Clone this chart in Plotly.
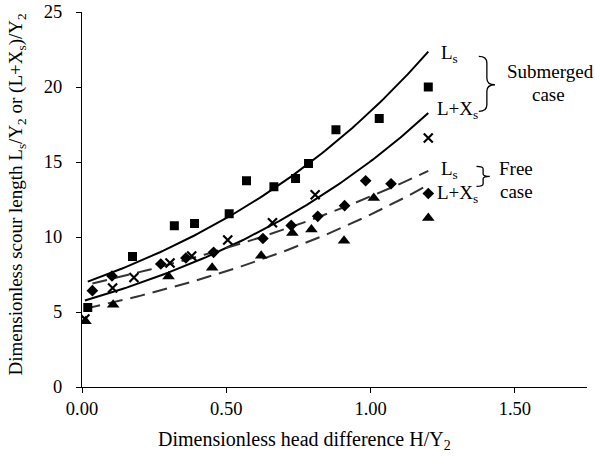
import numpy as np
import plotly.graph_objects as go

# Submerged case, L_s/Y2 (squares)
sub_ls_x = [0.02, 0.175, 0.32, 0.39, 0.51, 0.57, 0.665, 0.74, 0.785, 0.88, 1.03, 1.20]
sub_ls_y = [5.3, 8.7, 10.75, 10.9, 11.55, 13.75, 13.35, 13.9, 14.9, 17.15, 17.9, 20.0]

# Submerged case, (L+Xs)/Y2 (crosses)
sub_lx_x = [0.01, 0.106, 0.18, 0.305, 0.38, 0.505, 0.66, 0.808, 1.20]
sub_lx_y = [4.53, 6.6, 7.3, 8.27, 8.73, 9.8, 10.95, 12.82, 16.6]

# Free case, L_s/Y2 (diamonds)
free_ls_x = [0.036, 0.104, 0.273, 0.36, 0.456, 0.627, 0.725, 0.817, 0.91, 0.983, 1.071, 1.20]
free_ls_y = [6.42, 7.4, 8.2, 8.6, 8.98, 9.9, 10.77, 11.38, 12.09, 13.75, 13.55, 12.9]

# Free case, (L+Xs)/Y2 (triangles)
free_lx_x = [0.012, 0.108, 0.30, 0.451, 0.621, 0.729, 0.795, 0.908, 1.011, 1.20]
free_lx_y = [4.38, 5.49, 7.37, 7.95, 8.75, 10.27, 10.5, 9.75, 12.6, 11.27]

x_ticks = [0.0, 0.5, 1.0, 1.5]
x_tick_text = ["0.00", "0.50", "1.00", "1.50"]
y_ticks = [0, 5, 10, 15, 20, 25]

FONT = "Liberation Serif"


def exp_trend(xs, ys, n=100):
    xs = np.asarray(xs, float)
    ys = np.asarray(ys, float)
    b, lna = np.polyfit(xs, np.log(ys), 1)
    xx = np.linspace(xs.min(), xs.max(), n)
    return xx, np.exp(lna) * np.exp(b * xx)


fig = go.Figure()

series = [
    (sub_ls_x, sub_ls_y, dict(symbol="square", size=9, color="black"),
     dict(color="black", width=2)),
    (sub_lx_x, sub_lx_y, dict(symbol="x-thin", size=9, color="black",
                              line=dict(color="black", width=2.2)),
     dict(color="black", width=2)),
    (free_ls_x, free_ls_y, dict(symbol="diamond", size=9, color="black"),
     dict(color="#333333", width=2, dash="15px,8px")),
    (free_lx_x, free_lx_y, dict(symbol="triangle-up", size=11, color="black"),
     dict(color="#333333", width=2, dash="15px,8px")),
]

for xs, ys, mk, ln in series:
    tx, ty = exp_trend(xs, ys)
    fig.add_trace(go.Scatter(x=tx, y=ty, mode="lines", line=ln,
                             hoverinfo="skip", showlegend=False))
for xs, ys, mk, ln in series:
    fig.add_trace(go.Scatter(x=xs, y=ys, mode="markers", marker=mk,
                             showlegend=False))

ann_font = dict(family=FONT, size=19, color="black")
labels = [
    (1.275, 22.2, "L<sub>s</sub>"),
    (1.30, 18.45, "L+X<sub>s</sub>"),
    (1.275, 14.5, "L<sub>s</sub>"),
    (1.30, 12.9, "L+X<sub>s</sub>"),
    (1.625, 21.05, "Submerged"),
    (1.615, 19.5, "case"),
    (1.505, 14.6, "Free"),
    (1.505, 13.05, "case"),
]
for ax, ay, t in labels:
    fig.add_annotation(x=ax, y=ay, text=t, showarrow=False, font=ann_font,
                       xanchor="center", yanchor="middle")

# axis titles placed as text so their position matches the original
fig.add_annotation(
    xref="paper", yref="paper", x=-0.129, y=0.513,
    text="Dimensionless scour length L<sub>s</sub>/Y<sub>2</sub> or (L+X<sub>s</sub>)/Y<sub>2</sub>",
    textangle=-90, showarrow=False, xanchor="center", yanchor="middle",
    font=dict(family=FONT, size=19, color="black"))
fig.add_annotation(
    xref="paper", yref="paper", x=0.44, y=-0.142,
    text="Dimensionless head difference H/Y<sub>2</sub>",
    showarrow=False, xanchor="center", yanchor="middle",
    font=dict(family=FONT, size=20, color="black"))


def brace(x0, xm, x1, top, mid, bot):
    d = (top - bot) * 0.12
    return (f"M {x0},{top} Q {xm},{top} {xm},{top - d} "
            f"L {xm},{mid + d} Q {xm},{mid} {x1},{mid} "
            f"Q {xm},{mid} {xm},{mid - d} "
            f"L {xm},{bot + d} Q {xm},{bot} {x0},{bot}")


fig.add_shape(type="path", xref="x", yref="y",
              path=brace(1.375, 1.403, 1.431, 22.04, 20.15, 18.37),
              line=dict(color="black", width=1.3))
fig.add_shape(type="path", xref="x", yref="y",
              path=brace(1.367, 1.39, 1.413, 14.71, 14.04, 13.37),
              line=dict(color="black", width=1.3))

axis_common = dict(showline=True, linecolor="black", linewidth=1,
                   ticks="outside", ticklen=5, tickcolor="black",
                   showgrid=False, zeroline=False,
                   tickfont=dict(family=FONT, size=18.5, color="black"))

fig.update_layout(
    width=595, height=461,
    margin=dict(l=82, r=8, t=12, b=74, autoexpand=False),
    paper_bgcolor="white", plot_bgcolor="white",
    showlegend=False,
    xaxis=dict(range=[0, 1.75], tickvals=x_ticks, ticktext=x_tick_text,
               **axis_common),
    yaxis=dict(range=[0, 25], tickvals=y_ticks, ticklabelstandoff=10,
               **axis_common),
)

# remove the browser's default page margin so the figure fills the window
fig.write_html("out.html",
               config={"displayModeBar": False},
               post_script="document.body.style.margin='0';"
                           "document.body.style.padding='0';")
